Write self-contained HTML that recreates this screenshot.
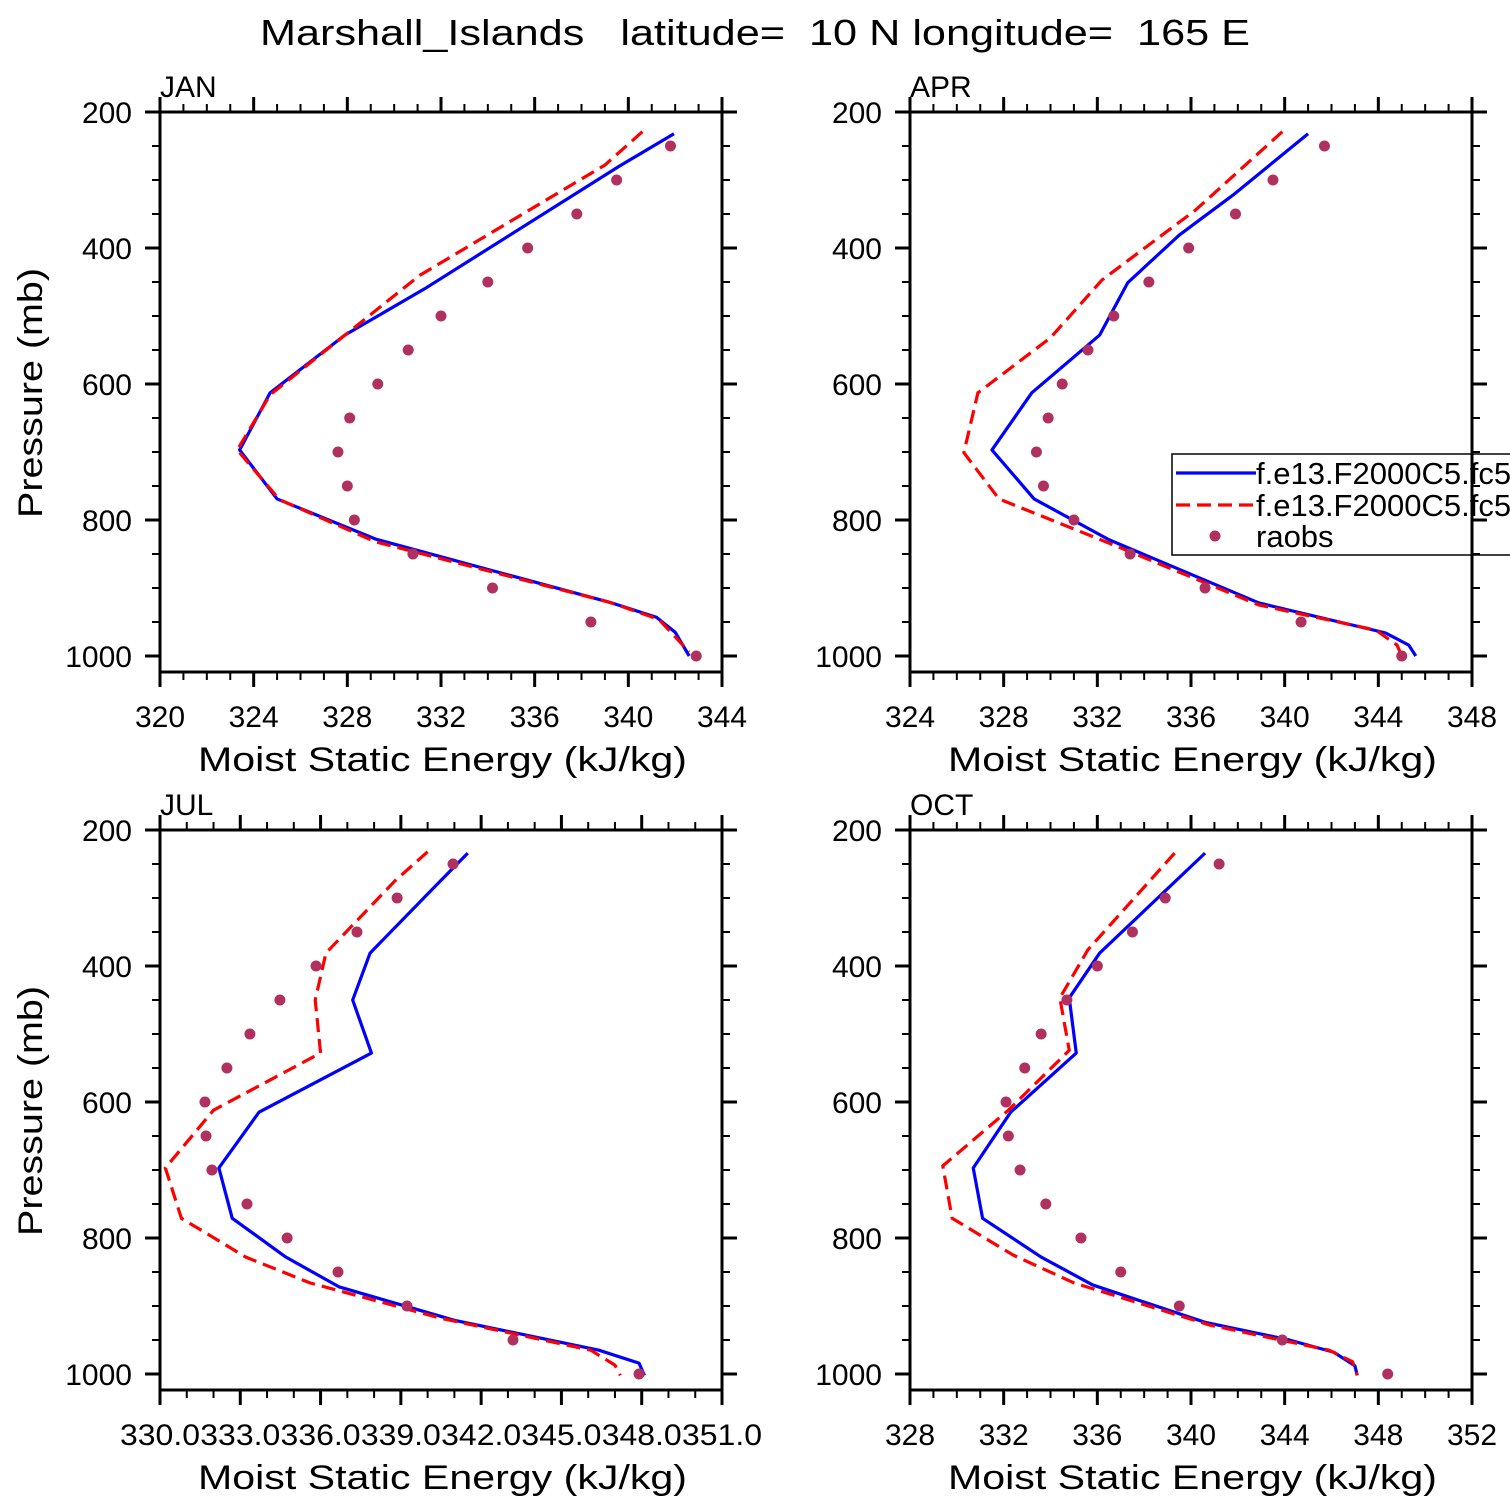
<!DOCTYPE html>
<html><head><meta charset="utf-8"><style>
html,body{margin:0;padding:0;background:#fff;}
svg{display:block;font-family:"Liberation Sans",sans-serif;}
</style></head><body>
<svg id="chart" width="1510" height="1510" viewBox="0 0 1510 1510" xmlns="http://www.w3.org/2000/svg">
<rect width="1510" height="1510" fill="#fff"/>
<text x="260" y="45" font-size="36" textLength="990" lengthAdjust="spacingAndGlyphs" fill="#000" style="white-space:pre" xml:space="preserve">Marshall_Islands   latitude=  10 N longitude=  165 E</text>
</svg>
<script>
// ---- data (pressure in mb, MSE in kJ/kg) ----
const obsP = [250,300,350,400,450,500,550,600,650,700,750,800,850,900,950,1000];
const janObs = [341.8,339.5,337.8,335.7,334.0,332.0,330.6,329.3,328.1,327.6,328.0,328.3,330.8,334.2,338.4,342.9];
const janBlueP = [232,280,460,528,613,697,769,828,921,943,965,1000];
const janBlue = [341.95,339.6,331.3,327.9,324.7,323.4,325.0,329.2,339.2,341.2,342.0,342.6];
const janRedP = [229,278,440,506,616,697,770,832,921,946,994];
const janRed = [340.6,339.0,331.1,328.7,324.7,323.3,325.1,329.2,339.2,341.3,342.6];

const aprObs = [341.7,339.5,337.9,335.9,334.2,332.7,331.6,330.5,329.9,329.4,329.7,331.0,333.4,336.6,340.7,345.0];
const aprBlueP = [232,322,381,451,528,613,697,769,829,922,966,984,1000];
const aprBlue = [341.0,337.8,335.5,333.3,332.1,329.2,327.5,329.3,332.5,338.9,344.3,345.3,345.6];
const aprRedP = [229,344,447,532,613,701,769,834,925,962,984,1000];
const aprRed = [339.9,336.2,332.2,330.0,326.9,326.3,327.8,332.5,338.9,343.9,344.8,345.0];

const julObs = [340.95,338.86,337.36,335.83,334.48,333.36,332.5,331.68,331.72,331.94,333.25,334.75,336.65,339.23,343.19,347.9];
const julBlueP = [234,274,381,450,528,615,697,771,828,872,921,965,984,1002];
const julBlue = [341.5,340.5,337.85,337.2,337.9,333.7,332.2,332.7,334.7,336.7,341.0,346.4,347.9,348.1];
const julRedP = [232,274,381,450,528,612,697,771,828,866,918,965,987,1002];
const julRed = [340.0,338.8,336.2,335.8,336.0,332.0,330.2,330.8,333.2,335.6,340.5,346.1,347.0,347.2];

const octObs = [341.2,338.9,337.5,336.0,334.7,333.6,332.9,332.1,332.2,332.7,333.8,335.3,337.0,339.5,343.9,348.4];
const octBlueP = [234,381,447,528,615,697,771,828,869,924,950,968,988,1002];
const octBlue = [340.6,336.1,334.8,335.1,332.3,330.7,331.1,333.6,335.8,340.6,344.2,346.1,347.0,347.1];
const octRedP = [234,376,447,524,612,694,771,825,866,928,965,982,1002];
const octRed = [339.3,335.6,334.4,334.8,332.2,329.4,329.8,332.4,335.0,340.8,345.9,346.9,347.1];

const yTicks = [200,400,600,800,1000];
const janXTicks = ['320','324','328','332','336','340','344'];
const aprXTicks = ['324','328','332','336','340','344','348'];
const julXTicks = ['330.0','333.0','336.0','339.0','342.0','345.0','348.0','351.0'];
const octXTicks = ['328','332','336','340','344','348','352'];
const legendLabels = ['f.e13.F2000C5.fc5','f.e13.F2000C5.fc5','raobs'];

const NS = 'http://www.w3.org/2000/svg';
const svg = document.getElementById('chart');
function mk(tag, attrs, parent){
  const e = document.createElementNS(NS, tag);
  for (const k in attrs) e.setAttribute(k, attrs[k]);
  (parent||svg).appendChild(e);
  return e;
}

function panel(cfg){
  const L=cfg.x0, T=cfg.y0, W=562, H=560;
  const pMin=200, pScale=0.68;
  const xmin=cfg.xmin, xmax=cfg.xmax;
  const xs = v => L + (v - xmin) / (xmax - xmin) * W;
  const ys = p => T + (p - pMin) * pScale;
  const g = mk('g', {});
  
  
  const clipId = 'clip-' + cfg.name;
  const cp = mk('clipPath', {id: clipId}, g);
  mk('rect', {x:L, y:T, width:W, height:H}, cp);

  const blue = mk('polyline', {fill:'none', stroke:'#0000ff', 'stroke-width':3.2, 'stroke-linejoin':'round', 'clip-path':'url(#'+clipId+')',
    points: cfg.blue.map((v,i)=>xs(v)+','+ys(cfg.blueP[i])).join(' ')}, g);
  
  
  const red = mk('polyline', {fill:'none', stroke:'#ff0000', 'stroke-width':3.2, 'stroke-dasharray':'14,7', 'clip-path':'url(#'+clipId+')',
    points: cfg.red.map((v,i)=>xs(v)+','+ys(cfg.redP[i])).join(' ')}, g);
  
  
  cfg.obs.forEach((v,i)=>{
    const c = mk('circle', {cx:xs(v), cy:ys(obsP[i]), r:5.5, fill:'#b03060'}, g);
    
    
  });

  if (cfg.legend) {
    const lg = mk('g', {}, g);
    
    
    mk('rect', {x:1172, y:454, width:360, height:101, fill:'#fff', stroke:'#000', 'stroke-width':1.5}, lg);
    mk('line', {x1:1176, y1:473, x2:1256, y2:473, stroke:'#0000ff','stroke-width':3.2}, lg);
    mk('line', {x1:1176, y1:505, x2:1256, y2:505, stroke:'#ff0000','stroke-width':3.2,'stroke-dasharray':'14,7'}, lg);
    mk('circle', {cx:1215, cy:536, r:5.5, fill:'#b03060'}, lg);
    [484,516,547].forEach((yy,i)=>{
      const t = mk('text', {x:1256, y:yy, 'font-size':31}, lg);
      t.textContent = legendLabels[i];
      
      
    });
  }

  mk('rect', {x:L, y:T, width:W, height:H, fill:'none', stroke:'#000', 'stroke-width':3}, g);
  for (let p=200; p<=1000; p+=50){
    const major = p % 200 === 0;
    const len = major ? 15 : 8;
    mk('line', {x1:L-len, y1:ys(p), x2:L, y2:ys(p), stroke:'#000','stroke-width':major?3:2}, g);
    mk('line', {x1:L+W, y1:ys(p), x2:L+W+len, y2:ys(p), stroke:'#000','stroke-width':major?3:2}, g);
  }
  yTicks.forEach(p=>{
    const t = mk('text', {x:L-28, y:ys(p)+11, 'font-size':30, 'text-anchor':'end'}, g);
    t.textContent = p;
    
    
  });
  const nMajor = cfg.xticks.length - 1;
  const step = (xmax - xmin) / nMajor;
  for (let i=0;i<nMajor;i++){
    for (let j=0;j<cfg.sub;j++){
      const v = xmin + i*step + j*step/cfg.sub;
      const major = j===0;
      const len = major ? 15 : 8;
      mk('line', {x1:xs(v), y1:T+H, x2:xs(v), y2:T+H+len, stroke:'#000','stroke-width':major?3:2}, g);
      mk('line', {x1:xs(v), y1:T-len, x2:xs(v), y2:T, stroke:'#000','stroke-width':major?3:2}, g);
    }
  }
  mk('line', {x1:L+W, y1:T+H, x2:L+W, y2:T+H+15, stroke:'#000','stroke-width':3}, g);
  mk('line', {x1:L+W, y1:T-15, x2:L+W, y2:T, stroke:'#000','stroke-width':3}, g);
  cfg.xticks.forEach((lab,i)=>{
    const t = mk('text', {x:xs(xmin+i*step), y:T+H+55, 'font-size':30, 'text-anchor':'middle'}, g);
    if (lab.length > 3) { t.setAttribute('textLength', 80); t.setAttribute('lengthAdjust','spacingAndGlyphs'); }
    t.textContent = lab;
    
    
  });
  const xt = mk('text', {x:L+38, y:T+H+99, 'font-size':34, textLength:489, lengthAdjust:'spacingAndGlyphs'}, g);
  xt.textContent = 'Moist Static Energy (kJ/kg)';
  
  
  const mt = mk('text', {x:L, y:T-15, 'font-size':30}, g);
  mt.textContent = cfg.label;
  
  
  if (cfg.ytitle){
    const yt = mk('text', {x:0, y:0, 'font-size':34, textLength:250, lengthAdjust:'spacingAndGlyphs',
      transform:'translate(42,'+(T+406)+') rotate(-90)'}, g);
    yt.textContent = 'Pressure (mb)';
    
    
  }
}

panel({name:'jan', label:'JAN', x0:160, y0:112, xmin:320, xmax:344, xticks:janXTicks, sub:4,
  obs:janObs, blue:janBlue, blueP:janBlueP, red:janRed, redP:janRedP, ytitle:true});
panel({name:'apr', label:'APR', x0:910, y0:112, xmin:324, xmax:348, xticks:aprXTicks, sub:4,
  obs:aprObs, blue:aprBlue, blueP:aprBlueP, red:aprRed, redP:aprRedP, legend:true});
panel({name:'jul', label:'JUL', x0:160, y0:830, xmin:330, xmax:351, xticks:julXTicks, sub:3,
  obs:julObs, blue:julBlue, blueP:julBlueP, red:julRed, redP:julRedP, ytitle:true});
panel({name:'oct', label:'OCT', x0:910, y0:830, xmin:328, xmax:352, xticks:octXTicks, sub:4,
  obs:octObs, blue:octBlue, blueP:octBlueP, red:octRed, redP:octRedP});
</script>
</body></html>
